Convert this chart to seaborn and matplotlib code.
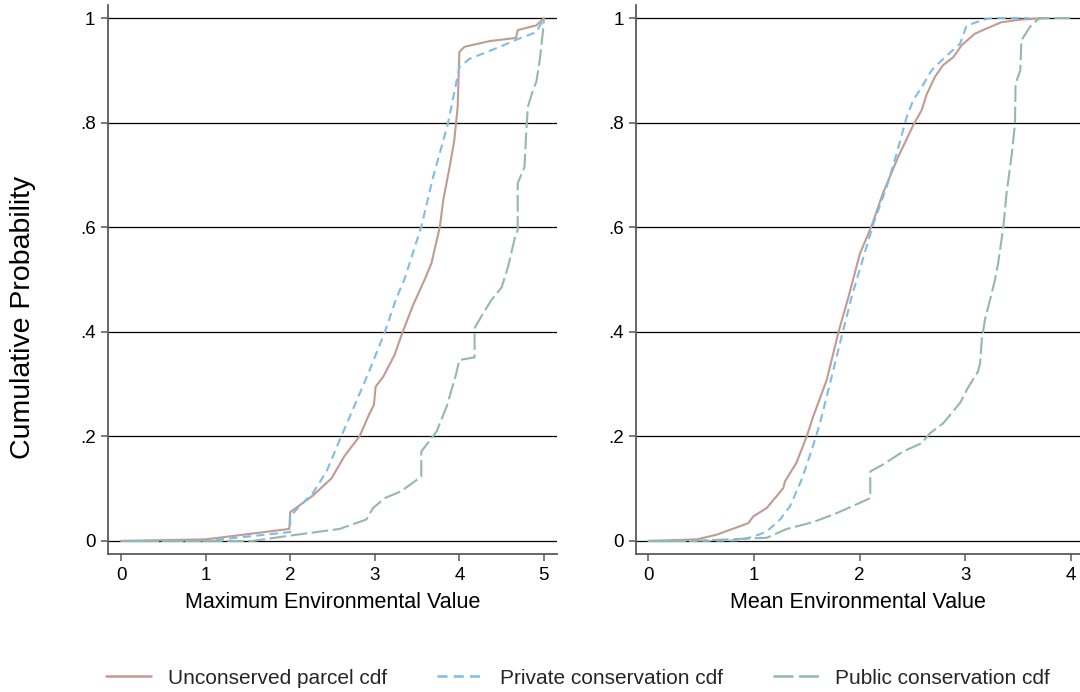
import pandas as pd
import matplotlib
matplotlib.use("Agg")
import matplotlib.pyplot as plt
from matplotlib.lines import Line2D
import seaborn as sns

series_names = ['Unconserved parcel cdf', 'Private conservation cdf', 'Public conservation cdf']

# Maximum Environmental Value panel
max_unc_x = [0, 1.0, 1.99, 2.0, 2.27, 2.49, 2.64, 2.82, 2.93, 2.99, 3.01, 3.10, 3.235, 3.31, 3.45,
             3.59, 3.67, 3.77, 3.81, 3.885, 3.94, 3.98, 4.0, 4.06, 4.36, 4.67, 4.69, 4.91, 5.0]
max_unc_y = [0, 0.003, 0.023, 0.055, 0.087, 0.12, 0.162, 0.20, 0.241, 0.26, 0.295, 0.314, 0.356, 0.391, 0.45,
             0.50, 0.531, 0.601, 0.652, 0.715, 0.766, 0.83, 0.935, 0.945, 0.956, 0.962, 0.977, 0.986, 1.0]
max_priv_x = [0, 1.0, 2.0, 2.0, 2.11, 2.27, 2.43, 2.585, 2.74, 2.94, 3.12, 3.255, 3.35, 3.55, 3.69,
              3.865, 3.945, 4.0, 4.12, 4.48, 4.71, 4.91, 5.0]
max_priv_y = [0, 0, 0.017, 0.047, 0.066, 0.092, 0.133, 0.193, 0.251, 0.327, 0.40, 0.464, 0.50, 0.601, 0.696,
              0.798, 0.862, 0.906, 0.922, 0.945, 0.961, 0.973, 1.0]
max_pub_x = [0, 1.56, 1.99, 2.585, 2.90, 2.98, 3.12, 3.31, 3.55, 3.55, 3.73, 3.85, 3.96, 4.0, 4.18, 4.18,
             4.28, 4.38, 4.50, 4.575, 4.655, 4.69, 4.69, 4.77, 4.79, 4.81, 4.87, 4.91, 4.95, 4.99, 5.0]
max_pub_y = [0, 0, 0.010, 0.023, 0.041, 0.063, 0.082, 0.095, 0.123, 0.171, 0.209, 0.257, 0.318, 0.346, 0.351, 0.407,
             0.435, 0.461, 0.485, 0.524, 0.579, 0.595, 0.684, 0.715, 0.779, 0.83, 0.862, 0.878, 0.919, 0.977, 1.0]

# Mean Environmental Value panel
mean_unc_x = [0, 0.458, 0.647, 0.946, 0.993, 1.12, 1.277, 1.293, 1.40, 1.499, 1.56, 1.688, 1.80, 1.89, 2.003,
              2.11, 2.22, 2.365, 2.507, 2.587, 2.63, 2.71, 2.79, 2.885, 2.965, 3.09, 3.20, 3.34, 3.52, 3.77]
mean_unc_y = [0, 0.003, 0.012, 0.034, 0.047, 0.063, 0.101, 0.114, 0.149, 0.20, 0.238, 0.308, 0.40, 0.464, 0.55,
              0.601, 0.665, 0.735, 0.795, 0.824, 0.852, 0.887, 0.91, 0.925, 0.948, 0.97, 0.98, 0.992, 0.997, 1.0]
mean_priv_x = [0, 0.47, 0.836, 0.993, 1.12, 1.246, 1.34, 1.45, 1.546, 1.624, 1.72, 1.845, 1.924, 2.13, 2.255,
               2.35, 2.445, 2.507, 2.587, 2.68, 2.79, 2.95, 3.01, 3.17, 3.26, 3.6]
mean_priv_y = [0, 0, 0.001, 0.008, 0.018, 0.041, 0.066, 0.117, 0.174, 0.225, 0.302, 0.404, 0.467, 0.607, 0.677,
               0.741, 0.811, 0.843, 0.868, 0.90, 0.922, 0.951, 0.985, 0.997, 1.0, 1.0]
mean_pub_x = [0, 0.4, 1.12, 1.31, 1.56, 1.78, 2.003, 2.10, 2.10, 2.22, 2.41, 2.587, 2.665, 2.79, 2.95, 3.03,
              3.12, 3.14, 3.155, 3.185, 3.233, 3.28, 3.31, 3.36, 3.39, 3.44, 3.47, 3.475, 3.52, 3.53, 3.61, 3.70, 3.99]
mean_pub_y = [0, 0, 0.006, 0.023, 0.036, 0.053, 0.073, 0.082, 0.133, 0.146, 0.171, 0.187, 0.206, 0.225, 0.264, 0.295,
              0.324, 0.34, 0.384, 0.423, 0.461, 0.499, 0.531, 0.601, 0.665, 0.741, 0.798, 0.875, 0.90, 0.957, 0.983, 1.0, 1.0]

ytick_vals = [0, 0.2, 0.4, 0.6, 0.8, 1.0]
ytick_labels = ['0', '.2', '.4', '.6', '.8', '1']

palette = {series_names[0]: '#c39a91', series_names[1]: '#7dbde8', series_names[2]: '#93b9ac'}
dashes = {series_names[0]: '', series_names[1]: (4, 2.5), series_names[2]: (8, 2.2)}


def make_frame(curves):
    """Long-form frame: one block of rows per series."""
    frames = []
    for name, (xs, ys) in zip(series_names, curves):
        frames.append(pd.DataFrame({'x': xs, 'y': ys, 'series': name}))
    return pd.concat(frames, ignore_index=True)


df_max = make_frame([(max_unc_x, max_unc_y), (max_priv_x, max_priv_y), (max_pub_x, max_pub_y)])
df_mean = make_frame([(mean_unc_x, mean_unc_y), (mean_priv_x, mean_priv_y), (mean_pub_x, mean_pub_y)])

sns.set_theme(style='white')
plt.rcParams['font.family'] = ['Liberation Sans', 'DejaVu Sans']

fig = plt.figure(figsize=(10.8, 6.92), dpi=100)
ax1 = fig.add_axes([0.100, 0.1994, 0.4157, 0.7934])
ax2 = fig.add_axes([0.5889, 0.1994, 0.4111, 0.7934])

panels = [(ax1, df_max, 'Maximum Environmental Value', (-0.154, 5.154), [0, 1, 2, 3, 4, 5]),
          (ax2, df_mean, 'Mean Environmental Value', (-0.117, 4.085), [0, 1, 2, 3, 4])]

for ax, df, xlabel, xlim, xticks in panels:
    # horizontal grid first so curves sit above it
    for yv in ytick_vals:
        ax.axhline(yv, color='black', lw=0.9, zorder=0)
    sns.lineplot(ax=ax, data=df, x='x', y='y', hue='series', style='series',
                 palette=palette, dashes=dashes, estimator=None, sort=False,
                 lw=1.5, legend=False)
    ax.set_xlim(*xlim)
    ax.set_ylim(-0.025, 1.025)
    ax.set_xticks(xticks)
    ax.set_xticklabels([str(t) for t in xticks])
    ax.set_yticks(ytick_vals)
    ax.set_yticklabels(ytick_labels)
    ax.set_xlabel(xlabel, fontsize=15.5, labelpad=6, color='black')
    ax.set_ylabel('')
    ax.grid(False)
    for side in ['top', 'right']:
        ax.spines[side].set_visible(False)
    for side in ['left', 'bottom']:
        ax.spines[side].set_color('#5a5a5a')
        ax.spines[side].set_linewidth(1.3)
    ax.tick_params(axis='both', which='major', direction='out', length=5, width=1.1,
                   color='#5a5a5a', labelsize=13.5, labelcolor='black', pad=4,
                   left=True, bottom=True)

fig.text(0.021, 0.542, 'Cumulative Probability', rotation=90, fontsize=20.5,
         ha='center', va='center', color='black')

handles = [Line2D([0], [0], color=palette[n], lw=1.8,
                  dashes=dashes[n] if dashes[n] else (None, None)) for n in series_names]
handles[0].set_linestyle('-')
fig.legend(handles, series_names, loc='center', bbox_to_anchor=(0.535, 0.02), ncol=3,
           frameon=False, fontsize=15, handlelength=2.2, columnspacing=2.4, handletextpad=0.8)

fig.savefig('out.png', dpi=100)
